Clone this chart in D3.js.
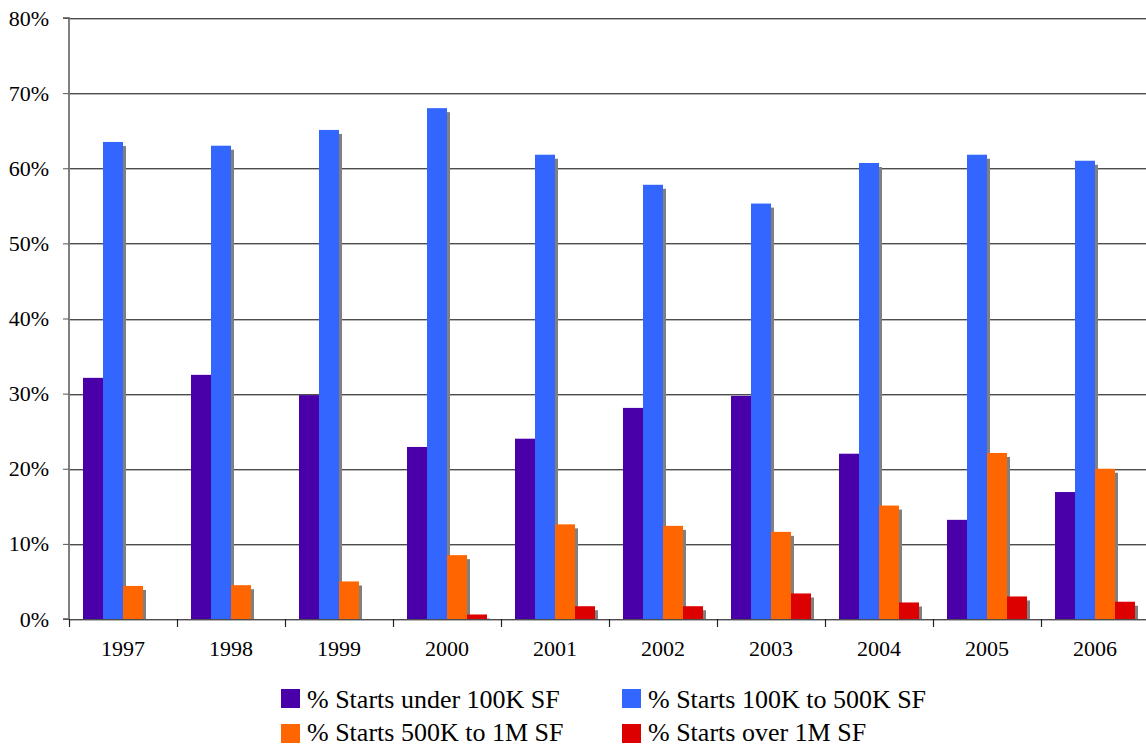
<!DOCTYPE html>
<html><head><meta charset="utf-8">
<script src="https://cdn.jsdelivr.net/npm/d3@7"></script>
<style>body{margin:0;background:#fff}svg{display:block}</style>
</head><body><svg id="c" width="1146" height="748"></svg>
<script>
const years = ["1997","1998","1999","2000","2001","2002","2003","2004","2005","2006"];
const seriesNames = ["% Starts under 100K SF","% Starts 100K to 500K SF","% Starts 500K to 1M SF","% Starts over 1M SF"];
const under100K = [32.1,32.5,29.8,22.9,24.0,28.1,29.7,22.0,13.2,16.9];
const k100to500 = [63.5,63.0,65.1,68.0,61.8,57.8,55.3,60.7,61.8,61.0];
const k500to1M = [4.4,4.5,5.0,8.5,12.6,12.4,11.6,15.1,22.1,20.0];
const over1M = [null,null,null,0.6,1.7,1.7,3.4,2.2,3.0,2.3];
const yTicks = [0,10,20,30,40,50,60,70,80];
const colors = ["#4900A8","#3366FF","#FF6600","#DD0000"];
const allSeries = [under100K,k100to500,k500to1M,over1M];
const FONT = "Liberation Serif";

const svg = d3.select("#c");
const L = 69, R = 1149, T = 18, B = 619;
const x = d3.scaleBand().domain(years).range([L,R]).paddingInner(0).paddingOuter(0);
const xs = d3.scaleBand().domain(d3.range(4)).range([0,x.bandwidth()]).paddingInner(0).paddingOuter(0.7);
const y = d3.scaleLinear().domain([0,80]).range([B,T]);

// gridlines
const g = svg.append("g");
yTicks.forEach(t=>{
  g.append("line").attr("x1",L).attr("x2",1146).attr("y1",Math.round(y(t))+0.5).attr("y2",Math.round(y(t))+0.5).attr("stroke","#4d4d4d").attr("stroke-width",1);
  g.append("line").attr("x1",L).attr("x2",1146).attr("y1",Math.round(y(t))+1.5).attr("y2",Math.round(y(t))+1.5).attr("stroke","#b5b5b5").attr("stroke-width",1);
});

// bars
allSeries.forEach((vals,si)=>{
  const gs = svg.append("g");
  const data = years.map((yr,i)=>({yr, v: vals[i]})).filter(d=>d.v!==null);
  gs.selectAll("rect.sh").data(data).join("rect").attr("class","sh")
    .attr("x",d=>x(d.yr)+xs(si)+3).attr("width",xs.bandwidth())
    .attr("y",d=>y(d.v)+4).attr("height",d=>Math.max(0,B-y(d.v)-4))
    .attr("fill","#808080");
  gs.selectAll("rect.b").data(data).join("rect").attr("class","b")
    .attr("x",d=>x(d.yr)+xs(si)).attr("width",xs.bandwidth())
    .attr("y",d=>y(d.v)).attr("height",d=>B-y(d.v))
    .attr("fill",colors[si]);
});

// y axis
const yAxis = d3.axisLeft(y).tickValues(yTicks).tickSize(6).tickPadding(14).tickFormat(d=>d+"%");
const ya = svg.append("g").attr("transform",`translate(${L},0)`).call(yAxis);
ya.attr("font-family",null).attr("font-size",null);
ya.select(".domain").attr("stroke","#808080").attr("stroke-width",2).attr("d",`M-6,${T}H0V${B}H-6`);
ya.selectAll(".tick line").attr("stroke","#555");
ya.selectAll("text").attr("font-family",FONT).attr("font-size","22px").attr("fill","#000");

// x axis
const xa = svg.append("g").attr("transform",`translate(0,${B})`);
xa.append("line").attr("x1",L).attr("x2",1146).attr("y1",0.5).attr("y2",0.5).attr("stroke","#4d4d4d");
const bounds = years.map(yr=>x(yr)).concat([R]);
xa.selectAll("line.t").data(bounds).join("line").attr("class","t")
  .attr("x1",d=>Math.round(d)+0.5).attr("x2",d=>Math.round(d)+0.5).attr("y1",0).attr("y2",8).attr("stroke","#222").attr("stroke-width",1.2);
xa.selectAll("text").data(years).join("text")
  .attr("x",d=>x(d)+x.bandwidth()/2).attr("y",37).attr("text-anchor","middle")
  .attr("font-family",FONT).attr("font-size","22px").attr("fill","#000").text(d=>d);

// legend
const legPos = [[281,689,708],[622,689,708],[281,724,741],[622,724,741]];
seriesNames.forEach((n,i)=>{
  const [lx,ly,by] = legPos[i];
  svg.append("rect").attr("x",lx).attr("y",ly).attr("width",19).attr("height",19).attr("fill",colors[i]);
  svg.append("text").attr("x",lx+26).attr("y",by).attr("font-family",FONT).attr("font-size","26px").attr("fill","#000").text(n);
});
</script></body></html>
